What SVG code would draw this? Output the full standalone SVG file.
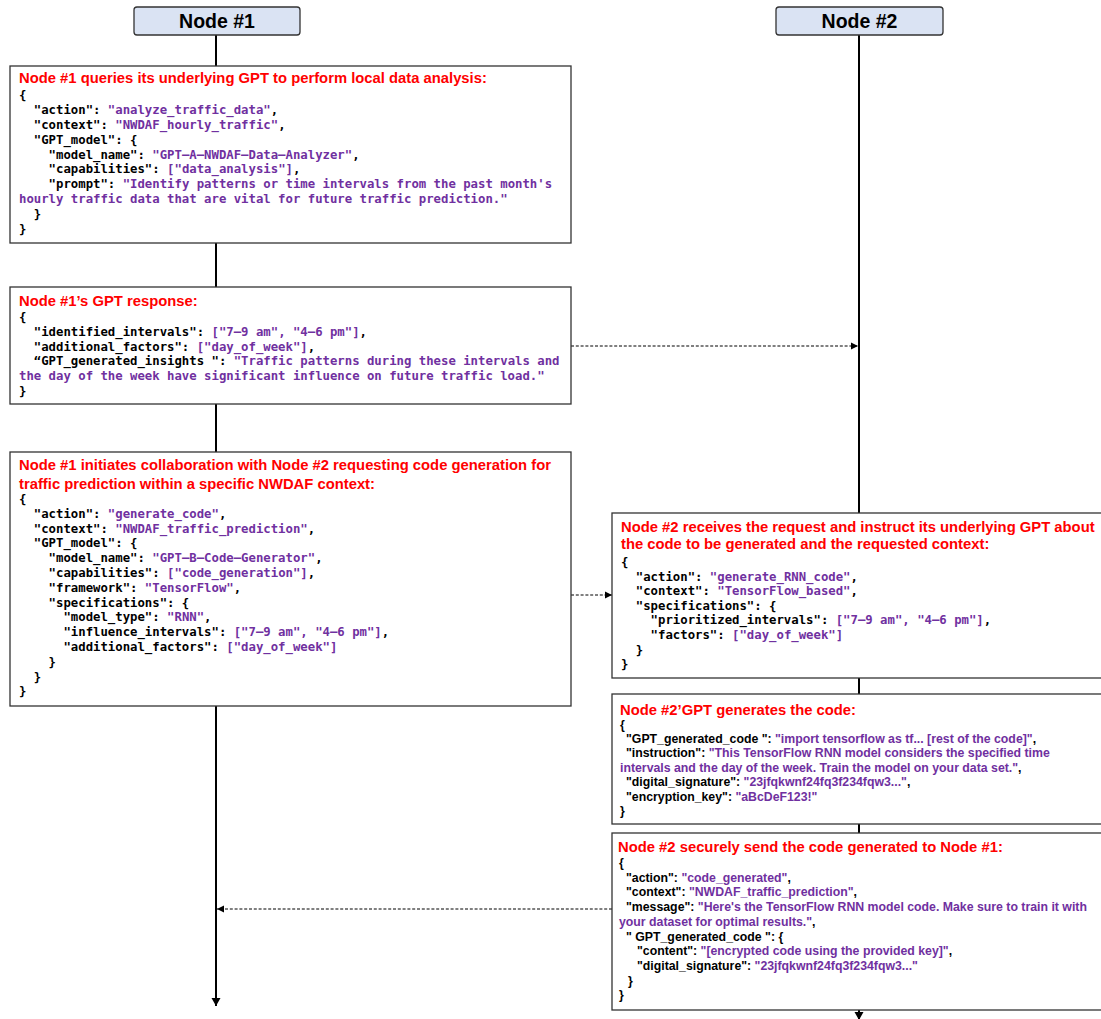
<svg xmlns="http://www.w3.org/2000/svg" width="1101" height="1019" viewBox="0 0 1101 1019">
<style>
.box{fill:#fff;stroke:#333;stroke-width:1.3}
.hdr{fill:#dae3f3;stroke:#333;stroke-width:1.3}
.hdrt{font-family:"Liberation Sans",Arial,sans-serif;font-weight:bold;font-size:19.5px;fill:#000;text-anchor:middle}
.ttl{font-family:"Liberation Sans",Arial,sans-serif;font-weight:bold;font-size:14.8px;fill:#ff0000}
.mono{font-family:"DejaVu Sans Mono",monospace;font-weight:bold;font-size:12.3px;fill:#000;white-space:pre}
.sans{font-family:"Liberation Sans",Arial,sans-serif;font-weight:bold;font-size:12.3px;fill:#000;white-space:pre}
.v{fill:#7030a0}
.life{stroke:#000;stroke-width:2;fill:none}
.msg{stroke:#000;stroke-width:1;stroke-dasharray:3 1.8;fill:none}
</style>
<defs>
<marker id="ah" markerWidth="8" markerHeight="8" refX="7" refY="4" orient="auto" markerUnits="userSpaceOnUse"><path d="M0,0.5 L7,4 L0,7.5 Z" fill="#000"/></marker>
<marker id="ahL" markerWidth="10" markerHeight="10" refX="8" refY="5" orient="auto" markerUnits="userSpaceOnUse"><path d="M0,0.5 L8,5 L0,9.5 Z" fill="#000"/></marker>
</defs>

<g id="connectors">
<line class="life" x1="216" y1="35" x2="216" y2="1006" marker-end="url(#ahL)"/>
<line class="life" x1="859" y1="35" x2="859" y2="1020" marker-end="url(#ahL)"/>
<line class="msg" x1="571" y1="346" x2="858" y2="346" marker-end="url(#ah)"/>
<line class="msg" x1="571" y1="595" x2="612" y2="595" marker-end="url(#ah)"/>
<line class="msg" x1="612" y1="909" x2="217" y2="909" marker-end="url(#ah)"/>
</g>

<g id="node1">
<rect class="hdr" x="134" y="7" width="166" height="28" rx="3"/>
<text class="hdrt" x="217" y="28">Node #1</text>
</g>
<g id="node2">
<rect class="hdr" x="776" y="7" width="167" height="28" rx="3"/>
<text class="hdrt" x="859.5" y="28">Node #2</text>
</g>

<g id="step1">
<rect class="box" x="10" y="66" width="561" height="177"/>
<text class="ttl" x="19" y="82.5">Node #1 queries its underlying GPT to perform local data analysis:</text>
<text class="mono" x="19" y="99.3">{</text>
<text class="mono" x="19" y="114.1">  "action": <tspan class="v">"analyze_traffic_data"</tspan>,</text>
<text class="mono" x="19" y="128.9">  "context": <tspan class="v">"NWDAF_hourly_traffic"</tspan>,</text>
<text class="mono" x="19" y="143.7">  "GPT_model": {</text>
<text class="mono" x="19" y="158.5">    "model_name": <tspan class="v">"GPT–A–NWDAF–Data–Analyzer"</tspan>,</text>
<text class="mono" x="19" y="173.3">    "capabilities": <tspan class="v">["data_analysis"]</tspan>,</text>
<text class="mono" x="19" y="188.1">    "prompt": <tspan class="v">"Identify patterns or time intervals from the past month's</tspan></text>
<text class="mono v" x="19" y="202.9">hourly traffic data that are vital for future traffic prediction."</text>
<text class="mono" x="19" y="217.7">  }</text>
<text class="mono" x="19" y="232.5">}</text>
</g>

<g id="step2">
<rect class="box" x="10" y="287" width="561" height="117"/>
<text class="ttl" x="19" y="306">Node #1’s GPT response:</text>
<text class="mono" x="19" y="321">{</text>
<text class="mono" x="19" y="335.8">  "identified_intervals": <tspan class="v">["7–9 am", "4–6 pm"]</tspan>,</text>
<text class="mono" x="19" y="350.6">  "additional_factors": <tspan class="v">["day_of_week"]</tspan>,</text>
<text class="mono" x="19" y="365.4">  “GPT_generated_insights ": <tspan class="v">"Traffic patterns during these intervals and</tspan></text>
<text class="mono v" x="19" y="380.2">the day of the week have significant influence on future traffic load."</text>
<text class="mono" x="19" y="395">}</text>
</g>

<g id="step3">
<rect class="box" x="10" y="452" width="561" height="254"/>
<text class="ttl" x="19" y="470">Node #1 initiates collaboration with Node #2 requesting code generation for</text>
<text class="ttl" x="19" y="488.5">traffic prediction within a specific NWDAF context:</text>
<text class="mono" x="19" y="503">{</text>
<text class="mono" x="19" y="517.8">  "action": <tspan class="v">"generate_code"</tspan>,</text>
<text class="mono" x="19" y="532.6">  "context": <tspan class="v">"NWDAF_traffic_prediction"</tspan>,</text>
<text class="mono" x="19" y="547.4">  "GPT_model": {</text>
<text class="mono" x="19" y="562.2">    "model_name": <tspan class="v">"GPT–B–Code–Generator"</tspan>,</text>
<text class="mono" x="19" y="577">    "capabilities": <tspan class="v">["code_generation"]</tspan>,</text>
<text class="mono" x="19" y="591.8">    "framework": <tspan class="v">"TensorFlow"</tspan>,</text>
<text class="mono" x="19" y="606.6">    "specifications": {</text>
<text class="mono" x="19" y="621.4">      "model_type": <tspan class="v">"RNN"</tspan>,</text>
<text class="mono" x="19" y="636.2">      "influence_intervals": <tspan class="v">["7–9 am", "4–6 pm"]</tspan>,</text>
<text class="mono" x="19" y="651">      "additional_factors": <tspan class="v">["day_of_week"]</tspan></text>
<text class="mono" x="19" y="665.8">    }</text>
<text class="mono" x="19" y="680.6">  }</text>
<text class="mono" x="19" y="695.4">}</text>
</g>

<g id="step4">
<rect class="box" x="612" y="513" width="500" height="165"/>
<text class="ttl" x="621" y="532">Node #2 receives the request and instruct its underlying GPT about</text>
<text class="ttl" x="621" y="548.5">the code to be generated and the requested context:</text>
<text class="mono" x="621" y="566">{</text>
<text class="mono" x="621" y="580.6">  "action": <tspan class="v">"generate_RNN_code"</tspan>,</text>
<text class="mono" x="621" y="595.2">  "context": <tspan class="v">"TensorFlow_based"</tspan>,</text>
<text class="mono" x="621" y="609.8">  "specifications": {</text>
<text class="mono" x="621" y="624.4">    "prioritized_intervals": <tspan class="v">["7–9 am", "4–6 pm"]</tspan>,</text>
<text class="mono" x="621" y="639">    "factors": <tspan class="v">["day_of_week"]</tspan></text>
<text class="mono" x="621" y="653.6">  }</text>
<text class="mono" x="621" y="668.2">}</text>
</g>

<g id="step5">
<rect class="box" x="612" y="694" width="500" height="130"/>
<text class="ttl" x="620" y="715">Node #2’GPT generates the code:</text>
<text class="sans" x="620" y="728.5">{</text>
<text class="sans" x="626" y="742.9">"GPT_generated_code ": <tspan class="v">"import tensorflow as tf... [rest of the code]"</tspan>,</text>
<text class="sans" x="626" y="757.3">"instruction": <tspan class="v">"This TensorFlow RNN model considers the specified time</tspan></text>
<text class="sans" x="620" y="771.7"><tspan class="v">intervals and the day of the week. Train the model on your data set."</tspan>,</text>
<text class="sans" x="626" y="786.1">"digital_signature": <tspan class="v">"23jfqkwnf24fq3f234fqw3..."</tspan>,</text>
<text class="sans" x="626" y="800.5">"encryption_key": <tspan class="v">"aBcDeF123!"</tspan></text>
<text class="sans" x="620" y="814.9">}</text>
</g>

<g id="step6">
<rect class="box" x="612" y="833" width="500" height="177"/>
<text class="ttl" x="618" y="851.5">Node #2 securely send the code generated to Node #1:</text>
<text class="sans" x="619" y="867">{</text>
<text class="sans" x="626" y="881.7">"action": <tspan class="v">"code_generated"</tspan>,</text>
<text class="sans" x="626" y="896.4">"context": <tspan class="v">"NWDAF_traffic_prediction"</tspan>,</text>
<text class="sans" x="626" y="911.1">"message": <tspan class="v">"Here's the TensorFlow RNN model code. Make sure to train it with</tspan></text>
<text class="sans" x="619" y="925.8"><tspan class="v">your dataset for optimal results."</tspan>,</text>
<text class="sans" x="626" y="940.5">" GPT_generated_code ": {</text>
<text class="sans" x="637" y="955.2">"content": <tspan class="v">"[encrypted code using the provided key]"</tspan>,</text>
<text class="sans" x="637" y="969.9">"digital_signature": <tspan class="v">"23jfqkwnf24fq3f234fqw3..."</tspan></text>
<text class="sans" x="628" y="984.6">}</text>
<text class="sans" x="619" y="999.3">}</text>
</g>
</svg>
